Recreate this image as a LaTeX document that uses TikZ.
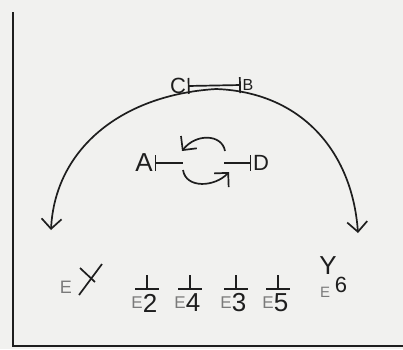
\documentclass[tikz,border=0pt]{standalone}
\usepackage{fontspec}
\setmainfont{Liberation Sans}
\usetikzlibrary{arrows.meta}
\definecolor{paper}{HTML}{F1F1EF}
\definecolor{ink}{HTML}{1E1E1E}
\definecolor{pencil}{HTML}{7A7A7A}
\begin{document}
\begin{tikzpicture}[x=1pt,y=-1pt,>={Straight Barb[length=10pt,width=20pt]},line width=1.7pt,draw=ink,text=ink]
  % Parameters
  \def\barW{16pt}      % inhibition bar width
  \def\tY{275}         % top of the small T marks
  \def\tBase{289}      % base line of the T marks
  \def\lblY{303}       % row of the E labels
  % paper and frame
  \fill[paper] (0,0) rectangle (403,349);
  \useasboundingbox (0,0) rectangle (403,349);
  \draw[ink] (13,12) -- (13,346) -- (403,346);
  % C -| |- B at the top
  \node[inner sep=1pt,font=\fontsize{22}{22}\selectfont] (C) at (178,86) {C};
  \node[inner sep=1pt,font=\fontsize{16}{16}\selectfont] (B) at (248,85) {B};
  \draw[{Bar[width=\barW]}-{Bar[width=\barW]}] (C.east) -- (B.west);
  % big arc to both sides
  \coordinate (peak) at (216,89);
  \coordinate (leftTip) at (51,230);
  \coordinate (rightTip) at (358,233);
  \draw[->] (peak) .. controls (120,95) and (55,150) .. (leftTip);
  \draw[->] (peak) .. controls (300,92) and (352,150) .. (rightTip);
  % A -| ... |- D with the loop
  \node[inner sep=1pt,font=\fontsize{26}{26}\selectfont] (A) at (144,163) {A};
  \node[inner sep=1pt,font=\fontsize{22}{22}\selectfont] (D) at (261,163) {D};
  \coordinate (aEnd) at (183,163);
  \coordinate (dEnd) at (224,163);
  \draw[{Bar[width=\barW]}-] (A.east) -- (aEnd);
  \draw[-{Bar[width=\barW]}] (dEnd) -- (D.west);
  \coordinate (loopA) at (225,151);
  \coordinate (loopB) at (182,151);
  \coordinate (loopC) at (183,170);
  \coordinate (loopD) at (229,172);
  \draw[->] (loopA) .. controls (222,134) and (196,133) .. (loopB);
  \draw[->] (loopC) .. controls (186,189) and (215,187) .. (loopD);
  % E1 with its cross
  \node[text=pencil,inner sep=0pt,font=\fontsize{18}{18}\selectfont] (e1) at (66,287) {E};
  \coordinate (xa) at (79,295);
  \coordinate (xb) at (102,264);
  \coordinate (xc) at (80,268);
  \coordinate (xd) at (95,282);
  \draw (xa) -- (xb);
  \draw (xc) -- (xd);
  % E2 E4 E3 E5 with their T marks
  \foreach \x/\n in {147/2,190/4,236/3,278/5}
  {\draw (\x,\tY) -- (\x,\tBase); \draw (\x-12,\tBase) -- (\x+12,\tBase);
   \node[text=pencil,inner sep=0pt,font=\fontsize{17}{17}\selectfont] (le\n) at (\x-10,\lblY) {E};
   \node[inner sep=0pt,font=\fontsize{26}{26}\selectfont] (n\n) at (\x+3,\lblY) {\n};}
  % Y6
  \node[inner sep=0pt,font=\fontsize{26}{26}\selectfont] (y) at (328,266) {Y};
  \node[inner sep=0pt,font=\fontsize{22}{22}\selectfont] (six) at (341,285) {6};
  \node[text=pencil,inner sep=0pt,font=\fontsize{15}{15}\selectfont] (le6) at (325,292) {E};
\end{tikzpicture}
\end{document}
